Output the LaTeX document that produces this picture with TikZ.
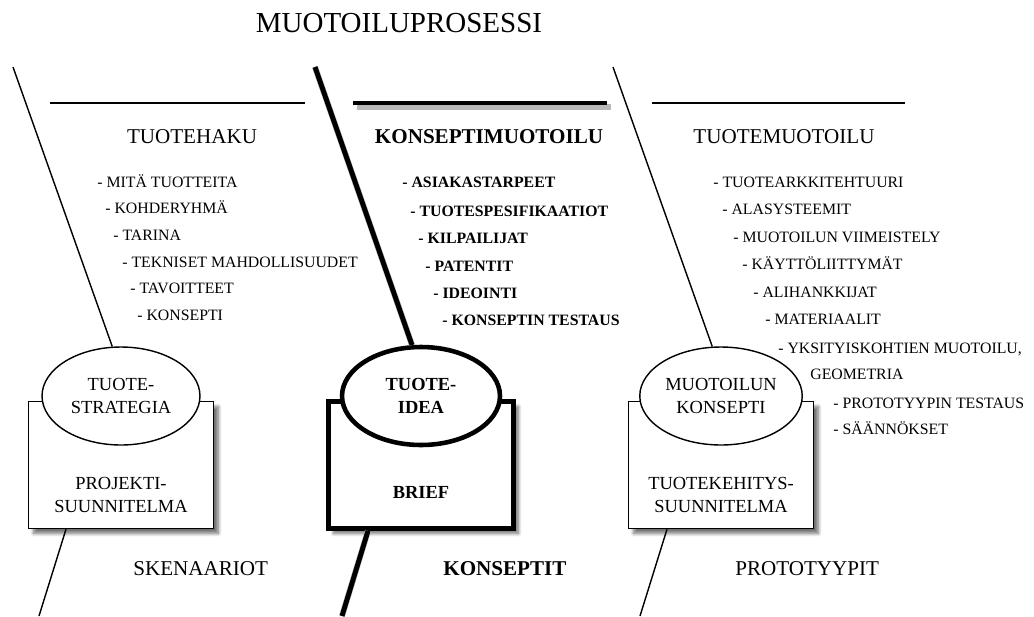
\documentclass[tikz,border=0pt]{standalone}
\usepackage{fontspec}
\setmainfont{Liberation Serif}
\usetikzlibrary{shapes.geometric,shadows.blur}

\begin{document}
\begin{tikzpicture}[x=0.02cm, y=-0.02cm,
    thinline/.style={line width=0.8pt},
    boldline/.style={line width=2.8pt},
    lineshadow/.style={line width=3.4pt, black!28, xshift=0.08cm, yshift=-0.08cm},
    phase/.style={anchor=base, inner sep=0pt, font=\fontsize{12}{14}\selectfont},
    item/.style={anchor=base west, inner sep=0pt, font=\fontsize{9}{11}\selectfont},
    stage/.style={ellipse, draw, fill=white, thinline, minimum width=3.16cm, minimum height=1.96cm,
                  align=center, inner sep=1pt, font=\fontsize{10.5}{13}\selectfont},
    plan/.style={rectangle, draw, fill=white, thinline, minimum width=3.7cm, minimum height=2.54cm,
                 blur shadow={shadow xshift=0.1cm, shadow yshift=-0.1cm, shadow blur steps=8, shadow opacity=55}},
    plantext/.style={align=center, inner sep=0pt, font=\fontsize{10.5}{13}\selectfont},
    result/.style={anchor=base west, inner sep=0pt, font=\fontsize{12}{14}\selectfont}]
      \useasboundingbox (0,0) rectangle (1034,616);

      \node[anchor=base, inner sep=0pt, font=\fontsize{16.5}{20}\selectfont] (otsikko) at (399,32) {MUOTOILUPROSESSI};

      % vaiheiden otsikkoviivat
      \draw[line width=1pt] (50,103) -- (305,103);
      \draw[lineshadow] (353,103) -- (607,103);
      \draw[boldline] (353,103) -- (607,103);
      \draw[line width=1pt] (652,103) -- (905,103);

      \node[phase] (haku) at (192,143) {TUOTEHAKU};
      \node[phase, font=\fontsize{12}{14}\selectfont\bfseries] (konsepti) at (489,143) {KONSEPTIMUOTOILU};
      \node[phase] (muotoilu) at (784,143) {TUOTEMUOTOILU};

      % tuotehaku
      \node[item] (h1) at (97,187) {- MITÄ TUOTTEITA};
      \node[item] (h2) at (105,213) {- KOHDERYHMÄ};
      \node[item] (h3) at (113,240) {- TARINA};
      \node[item] (h4) at (122,267) {- TEKNISET MAHDOLLISUUDET};
      \node[item] (h5) at (130,293) {- TAVOITTEET};
      \node[item] (h6) at (137,320) {- KONSEPTI};

      % konseptimuotoilu
      \node[item, font=\fontsize{9}{11}\selectfont\bfseries] (k1) at (402,187) {- ASIAKASTARPEET};
      \node[item, font=\fontsize{9}{11}\selectfont\bfseries] (k2) at (410,216) {- TUOTESPESIFIKAATIOT};
      \node[item, font=\fontsize{9}{11}\selectfont\bfseries] (k3) at (418,243) {- KILPAILIJAT};
      \node[item, font=\fontsize{9}{11}\selectfont\bfseries] (k4) at (425,271) {- PATENTIT};
      \node[item, font=\fontsize{9}{11}\selectfont\bfseries] (k5) at (433,298) {- IDEOINTI};
      \node[item, font=\fontsize{9}{11}\selectfont\bfseries] (k6) at (442,325) {- KONSEPTIN TESTAUS};

      % tuotemuotoilu
      \node[item] (m1) at (713,187) {- TUOTEARKKITEHTUURI};
      \node[item] (m2) at (722,214) {- ALASYSTEEMIT};
      \node[item] (m3) at (733,242) {- MUOTOILUN VIIMEISTELY};
      \node[item] (m4) at (742,269) {- KÄYTTÖLIITTYMÄT};
      \node[item] (m5) at (753,297) {- ALIHANKKIJAT};
      \node[item] (m6) at (765,324) {- MATERIAALIT};
      \node[item] (m7) at (778,353) {- YKSITYISKOHTIEN MUOTOILU,};
      \node[item] (m7b) at (810,379) {GEOMETRIA};
      \node[item] (m8) at (833,408) {- PROTOTYYPIN TESTAUS};
      \node[item] (m9) at (833,434) {- SÄÄNNÖKSET};

      % suunnitelmat ja konseptit
      \node[plan] (suunn1) at (121,465) {};
      \node[plan, line width=2.6pt] (brief) at (421,465) {};
      \node[plan] (suunn3) at (721,465) {};

      \node[stage] (strategia) at (121,396) {TUOTE-\\STRATEGIA};
      \node[stage, line width=2.6pt, font=\fontsize{10.5}{13}\selectfont\bfseries] (idea) at (421,396) {TUOTE-\\IDEA};
      \node[stage] (mkonsepti) at (721,396) {MUOTOILUN\\KONSEPTI};

      \node[plantext] (projekti) at (121,495) {PROJEKTI-\\SUUNNITELMA};
      \node[plantext, font=\fontsize{10.5}{13}\selectfont\bfseries] (brieftext) at (421,492) {BRIEF};
      \node[plantext] (kehitys) at (721,495) {TUOTEKEHITYS-\\SUUNNITELMA};

      \node[result] (skenaariot) at (133,575) {SKENAARIOT};
      \node[result, font=\fontsize{12}{14}\selectfont\bfseries] (konseptit) at (443,575) {KONSEPTIT};
      \node[result] (prototyypit) at (735,575) {PROTOTYYPIT};

      % jakoviivat
      \coordinate (yla1) at (13,67);
      \coordinate (yla2) at (315,67);
      \coordinate (yla3) at (613,67);
      \coordinate (ala1) at (39,616);
      \coordinate (ala2) at (342,616);
      \coordinate (ala3) at (640,616);

      \draw[thinline] (yla1) -- (strategia.100);
      \draw[thinline] ([xshift=-1.1cm]suunn1.south) -- (ala1);
      \draw[lineshadow] (yla2) -- (idea.100);
      \draw[boldline] (yla2) -- (idea.100);
      \draw[lineshadow] ([xshift=-1.06cm]brief.south) -- (ala2);
      \draw[boldline] ([xshift=-1.06cm]brief.south) -- (ala2);
      \draw[thinline] (yla3) -- (mkonsepti.100);
      \draw[thinline] ([xshift=-1.08cm]suunn3.south) -- (ala3);
    \end{tikzpicture}
\end{document}
